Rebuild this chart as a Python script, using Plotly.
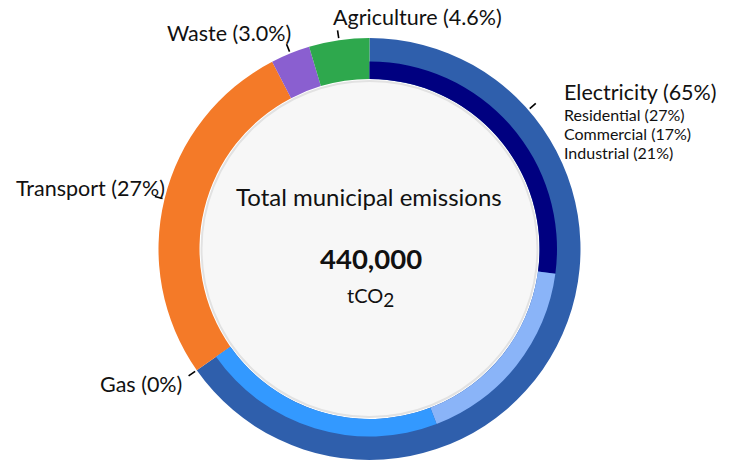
import math
import plotly.graph_objects as go

W, H = 729, 461

# ---- data ----
sectors = ["Electricity", "Gas", "Transport", "Waste", "Agriculture"]
sector_pct = [65, 0, 27, 3.0, 4.6]
sector_labels = ["Electricity (65%)", "Gas (0%)", "Transport (27%)", "Waste (3.0%)", "Agriculture (4.6%)"]
elec_sub = ["Residential", "Commercial", "Industrial"]
elec_sub_pct = [27, 17, 21]
elec_sub_labels = ["Residential (27%)", "Commercial (17%)", "Industrial (21%)"]
center_title = "Total municipal emissions"
center_value = "440,000"
center_unit = "tCO<sub><span style='font-size:19px'>2</span></sub>"

# ---- geometry / style ----
cx, cy = 369.5, 249.0
R_out, R_mid, R_in, R_center = 211.0, 187.5, 170.0, 168.0
sector_colors = ["#2F5FAC", "#9E9E9E", "#F47A28", "#8A5FD0", "#2EA84D"]
sub_colors = ["#000080", "#8AB4F8", "#3399FF"]
FONT = "Lato"


def dom(r):
    return dict(x=[(cx - r) / W, (cx + r) / W], y=[1 - (cy + r) / H, 1 - (cy - r) / H])


def px2paper(x, y):
    return x / W, 1 - y / H


fig = go.Figure()

# center disc
fig.add_trace(go.Pie(values=[1], labels=["center"], domain=dom(R_center), sort=False,
                     marker=dict(colors=["#F7F7F7"], line=dict(color="#E2E2E2", width=2)),
                     textinfo="none", hoverinfo="skip", showlegend=False))

# outer ring (sectors)
fig.add_trace(go.Pie(values=sector_pct, labels=sectors, domain=dom(R_out), hole=R_in / R_out,
                     sort=False, direction="clockwise", rotation=0,
                     marker=dict(colors=sector_colors, line=dict(width=0)),
                     textinfo="none", showlegend=False))

# inner ring (electricity breakdown)
total = sum(sector_pct)
rest = total - sum(elec_sub_pct)
fig.add_trace(go.Pie(values=elec_sub_pct + [rest], labels=elec_sub + ["other"],
                     domain=dom(R_mid), hole=R_in / R_mid,
                     sort=False, direction="clockwise", rotation=0,
                     marker=dict(colors=sub_colors + ["rgba(0,0,0,0)"], line=dict(width=0)),
                     textinfo="none", showlegend=False))

# leader ticks at mid-angles computed from data
cum = []
acc = 0
for v in sector_pct:
    cum.append((acc, acc + v))
    acc += v
mids = {s: (a + b) / 2 / total * 360 for s, (a, b) in zip(sectors, cum)}
mids["Electricity"] = elec_sub_pct[0] / 2 / total * 360
shapes = []
for s in sectors:
    th = math.radians(mids[s])
    x0, y0 = cx + 213 * math.sin(th), cy - 213 * math.cos(th)
    x1, y1 = cx + 221 * math.sin(th), cy - 221 * math.cos(th)
    a0 = px2paper(x0, y0)
    a1 = px2paper(x1, y1)
    shapes.append(dict(type="line", xref="paper", yref="paper", x0=a0[0], y0=a0[1],
                       x1=a1[0], y1=a1[1], line=dict(color="black", width=1.6)))

annotations = []


def ann(text, x, y, size, xanchor="left", yanchor="middle", bold=False, align="left"):
    px, py = px2paper(x, y)
    t = f"<b>{text}</b>" if bold else text
    annotations.append(dict(text=t, x=px, y=py, xref="paper", yref="paper", showarrow=False,
                            xanchor=xanchor, yanchor=yanchor, align=align, borderpad=0,
                            font=dict(family=FONT, size=size, color="#111111")))


label_pos = {
    "Electricity": (563, 92),
    "Gas": (99, 384),
    "Transport": (15, 188),
    "Waste": (166, 33),
    "Agriculture": (332, 17),
}
for s, lab in zip(sectors, sector_labels):
    x, y = label_pos[s]
    ann(lab, x, y, 21.5)

# electricity breakdown as one multi-line block (line spacing from base size)
sub_block = "<br>".join(f"<span style='font-size:16px'>{lab}</span>" for lab in elec_sub_labels)
ann(sub_block, 563, 133, 14.8)

ann(center_title, 369, 197, 24, xanchor="center")
ann(center_value, 371, 258, 27.5, xanchor="center", bold=True)
ann(center_unit, 370, 297, 20, xanchor="center")

fig.update_layout(width=W, height=H, margin=dict(l=0, r=0, t=0, b=0),
                  paper_bgcolor="white", plot_bgcolor="white",
                  shapes=shapes, annotations=annotations, showlegend=False)

fig.write_html("out.html", config={"displayModeBar": False},
               post_script="document.body.style.margin='0px';")
